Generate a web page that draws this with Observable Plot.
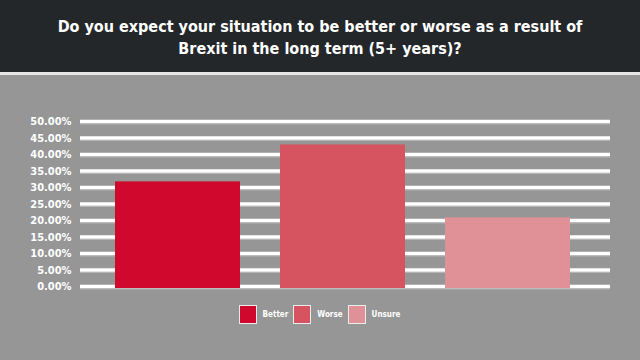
<!DOCTYPE html>
<html><head><meta charset="utf-8">
<script src="https://cdn.jsdelivr.net/npm/d3@7"></script>
<script src="https://cdn.jsdelivr.net/npm/@observablehq/plot@0.6"></script>
<style>
html,body{margin:0;padding:0;width:640px;height:360px;overflow:hidden;background:#969696;font-family:"DejaVu Sans Condensed","DejaVu Sans",sans-serif;}
#hdr{height:72px;background:#24272a;border-bottom:3px solid #e6e6e6;color:#fff;font-weight:bold;font-size:16px;line-height:22px;text-align:center;display:flex;align-items:center;justify-content:center;box-sizing:content-box;}
#hdr div{margin-top:4px}
#chart svg{display:block}
#legend{display:flex;justify-content:center;align-items:center;margin-top:5px;margin-left:4px;color:#fff;font-weight:bold;font-size:8px;}
.it{display:flex;align-items:center;margin-right:5px}
.sw{width:16px;height:17px;border:1px solid #ececec;margin-right:6px;box-sizing:content-box}
</style></head>
<body>
<div id="hdr"><div>Do you expect your situation to be better or worse as a result of<br>Brexit in the long term (5+ years)?</div></div>
<div id="chart"></div>
<div id="legend"></div>
<script>
const categories = ["Better", "Worse", "Unsure"];
const values = [31.7, 42.9, 20.8];
const colors = ["#d0082d", "#d5545f", "#e09197"];
const yTicks = [0, 5, 10, 15, 20, 25, 30, 35, 40, 45, 50];

const data = categories.map((c, i) => ({category: c, value: values[i]}));

const plot = Plot.plot({
  width: 640,
  height: 225,
  marginTop: 46,
  marginBottom: 14,
  marginLeft: 80,
  marginRight: 30,
  style: {background: "transparent", fontFamily: "'DejaVu Sans Condensed','DejaVu Sans',sans-serif", fontWeight: "bold", fontSize: "11px", color: "#fff"},
  x: {domain: categories, paddingInner: 0.245, paddingOuter: 0.22, align: 0.47, axis: null},
  y: {domain: [0, 50], ticks: yTicks, tickFormat: d => d.toFixed(2) + "%", tickSize: 0, tickPadding: 9, label: null},
  color: {domain: categories, range: colors},
  marks: [
    Plot.ruleY(yTicks, {stroke: "#b4b4b4", strokeWidth: 1, dy: 2.5}),
    Plot.ruleY(yTicks, {stroke: "#ffffff", strokeWidth: 3.5}),
    Plot.barY(data, {x: "category", y: "value", fill: "category", insetBottom: -2})
  ]
});
document.getElementById("chart").appendChild(plot);

const leg = document.getElementById("legend");
categories.forEach((c, i) => {
  const it = document.createElement("div"); it.className = "it";
  const sw = document.createElement("div"); sw.className = "sw"; sw.style.background = colors[i];
  const t = document.createElement("span"); t.textContent = c;
  it.appendChild(sw); it.appendChild(t); leg.appendChild(it);
});
</script>
</body></html>
